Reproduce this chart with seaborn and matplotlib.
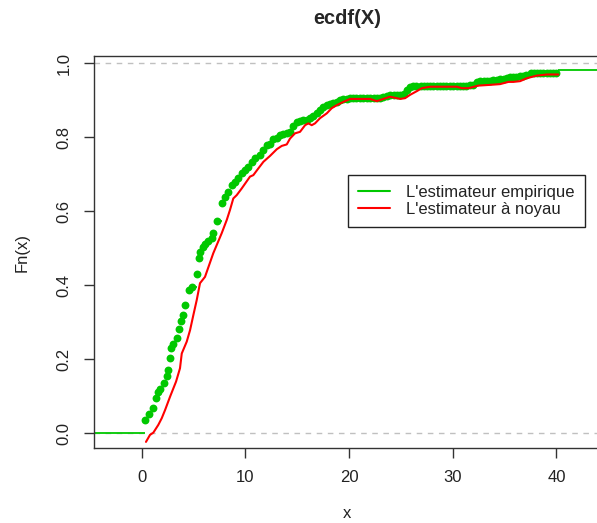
import matplotlib
matplotlib.use("Agg")
import matplotlib.pyplot as plt
import pandas as pd
import seaborn as sns

emp_x = [0.34, 0.72, 1.06, 1.35, 1.56, 1.78, 2.20, 2.43, 2.60, 2.70, 2.84, 3.04,
         3.42, 3.59, 3.78, 3.97, 4.24, 4.61, 4.84, 5.32, 5.52, 5.64, 5.90, 6.12,
         6.44, 6.77, 6.92, 7.28, 7.73, 8.05, 8.37, 8.70, 9.02, 9.33, 9.66, 9.98,
         10.30, 10.63, 10.95, 11.43, 11.75, 12.07, 12.39, 12.71, 13.04, 13.36,
         13.67, 14.00, 14.32, 14.64, 14.97, 15.28, 15.60, 15.93, 16.25, 16.57,
         16.89, 17.21, 17.53, 17.86, 18.18, 18.50, 18.82, 19.14, 19.46, 19.79,
         20.1, 20.4, 20.7, 21.1, 21.4, 21.7, 22.0, 22.4, 22.7, 23.0, 23.3, 23.7,
         24.0, 24.3, 24.6, 24.9, 25.3, 25.6, 25.9, 26.2, 26.5, 26.9, 27.2, 27.5,
         27.8, 28.1, 28.5, 28.8, 29.1, 29.4, 29.7, 30.0, 30.4, 30.7, 31.0, 31.3,
         31.7, 32.0, 32.3, 32.6, 33.0, 33.3, 33.6, 33.9, 34.3, 34.6, 34.9, 35.2,
         35.5, 35.8, 36.1, 36.5, 36.8, 37.1, 37.5, 37.8, 38.1, 38.4, 38.7, 39.1,
         39.4, 39.7, 40.0]
emp_y = [0.034, 0.051, 0.067, 0.095, 0.112, 0.118, 0.136, 0.154, 0.170, 0.204,
         0.231, 0.240, 0.256, 0.282, 0.303, 0.319, 0.345, 0.386, 0.395, 0.429,
         0.472, 0.488, 0.504, 0.511, 0.520, 0.526, 0.540, 0.573, 0.621, 0.639,
         0.652, 0.670, 0.679, 0.688, 0.704, 0.711, 0.720, 0.733, 0.742, 0.751,
         0.765, 0.778, 0.782, 0.794, 0.798, 0.805, 0.808, 0.811, 0.814, 0.830,
         0.841, 0.843, 0.845, 0.847, 0.851, 0.857, 0.865, 0.873, 0.880, 0.886,
         0.889, 0.892, 0.896, 0.900, 0.903, 0.904, 0.905, 0.905, 0.905, 0.905,
         0.905, 0.905, 0.905, 0.905, 0.905, 0.906, 0.907, 0.911, 0.914, 0.914,
         0.914, 0.914, 0.916, 0.927, 0.934, 0.937, 0.939, 0.939, 0.939, 0.939,
         0.939, 0.939, 0.939, 0.939, 0.939, 0.939, 0.939, 0.939, 0.939, 0.939,
         0.939, 0.939, 0.941, 0.941, 0.948, 0.951, 0.951, 0.951, 0.952, 0.953,
         0.955, 0.957, 0.958, 0.959, 0.961, 0.961, 0.962, 0.964, 0.965, 0.968,
         0.972, 0.972, 0.972, 0.972, 0.972, 0.972, 0.972, 0.972, 0.972]
emp_last_x = 40.15
emp_last_y = 0.981

# kernel estimator curve
ker_x = [0.43, 0.82, 1.14, 1.62, 1.95, 2.27, 2.75, 3.33, 3.71, 3.88, 4.36, 4.68,
         5.00, 5.32, 5.64, 6.12, 6.92, 7.73, 8.22, 8.53, 8.85, 9.18, 9.66, 10.46,
         10.78, 11.26, 11.75, 12.39, 13.04, 13.52, 14.00, 14.32, 14.80, 15.28,
         15.77, 16.09, 16.41, 16.73, 17.21, 17.86, 18.34, 18.82, 19.46, 20.11,
         21.07, 22.03, 22.68, 23.32, 23.96, 24.45, 24.93, 25.41, 25.89, 26.54,
         27.02, 27.82, 30.40, 30.88, 31.51, 32.48, 33.61, 34.57, 35.37, 35.85,
         36.50, 37.15, 38.11, 39.07, 40.19]
ker_y = [-0.024, -0.005, 0.001, 0.022, 0.040, 0.062, 0.098, 0.139, 0.175, 0.215,
         0.247, 0.278, 0.319, 0.359, 0.405, 0.422, 0.486, 0.540, 0.576, 0.603,
         0.634, 0.643, 0.661, 0.693, 0.697, 0.715, 0.733, 0.749, 0.767, 0.776,
         0.780, 0.796, 0.810, 0.814, 0.832, 0.837, 0.832, 0.837, 0.851, 0.864,
         0.878, 0.886, 0.895, 0.903, 0.903, 0.903, 0.897, 0.903, 0.909, 0.906,
         0.903, 0.905, 0.914, 0.924, 0.932, 0.936, 0.936, 0.932, 0.932, 0.939,
         0.941, 0.943, 0.949, 0.949, 0.951, 0.959, 0.966, 0.969, 0.969]

x_ticks = [0, 10, 20, 30, 40]
y_ticks = [0.0, 0.2, 0.4, 0.6, 0.8, 1.0]

GREEN = "#00c800"
RED = "#ff0000"
TXT = "#222222"

sns.set_style("white")
plt.rcParams["font.family"] = ["Liberation Sans", "DejaVu Sans"]

fig = plt.figure(figsize=(5.97, 5.23), dpi=100)
ax = fig.add_axes([94 / 597, 75 / 523, 506 / 597, 392 / 523])

xlo, xhi = -4.58, 44.2
ax.set_xlim(xlo, xhi)
ax.set_ylim(-0.0405, 1.019)

# reference lines at 0 and 1
for h in (0, 1):
    ax.axhline(h, color="#c0c0c0", lw=1, ls=(0, (4, 4)), zorder=1)

# empirical step function: horizontal pieces only (no verticals, like R)
starts = [xlo] + emp_x + [emp_last_x]
ends = emp_x + [emp_last_x, xhi]
levels = [0.0] + emp_y + [emp_last_y]
ax.hlines(levels, starts, ends, color=GREEN, lw=1.3, zorder=2)
pts = pd.DataFrame({"x": emp_x, "y": emp_y})
sns.scatterplot(data=pts, x="x", y="y", color=GREEN, s=32, linewidth=0,
                ax=ax, zorder=3)

# kernel estimator
ker = pd.DataFrame({"x": ker_x, "y": ker_y})
sns.lineplot(data=ker, x="x", y="y", color=RED, lw=1.5, estimator=None,
             sort=False, ax=ax, zorder=4)

ax.set_xticks(x_ticks)
ax.set_yticks(y_ticks)
ax.set_yticklabels([f"{v:.1f}" for v in y_ticks], rotation=90, va="center")
ax.tick_params(axis="both", direction="out", length=7, width=1, color="#333333",
               labelsize=12, labelcolor=TXT, bottom=True, left=True)
ax.tick_params(axis="x", pad=9)
ax.tick_params(axis="y", pad=9)
for s in ax.spines.values():
    s.set_color("#333333")
    s.set_linewidth(1)

ax.set_xlabel("x", fontsize=12, color=TXT)
ax.set_ylabel("Fn(x)", fontsize=12, color=TXT)
ax.xaxis.set_label_coords(0.5, -65 / 392)
ax.yaxis.set_label_coords(-72 / 506, 0.5)
ax.xaxis.label.set_va("center")
ax.yaxis.label.set_va("center")
ax.set_title("ecdf(X)", fontsize=14.4, fontweight="bold", pad=23)

handles = [plt.Line2D([], [], color=GREEN, lw=1.5),
           plt.Line2D([], [], color=RED, lw=1.5)]
leg = ax.legend(handles, ["L'estimateur empirique", "L'estimateur à noyau"],
                loc="upper left", bbox_to_anchor=(0.502, 0.696), fontsize=12,
                frameon=True, fancybox=False, framealpha=1, edgecolor=TXT,
                handlelength=1.9, borderpad=0.6, labelspacing=0.12,
                handletextpad=1.0, borderaxespad=0)
for t in leg.get_texts():
    t.set_color(TXT)
leg.get_frame().set_linewidth(1)

fig.savefig("out.png", dpi=100)
